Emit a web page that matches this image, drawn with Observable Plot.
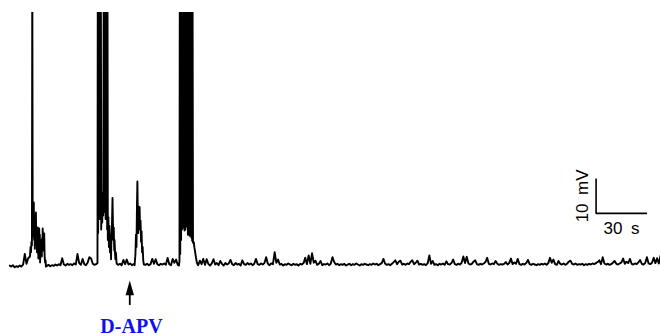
<!DOCTYPE html>
<html>
<head>
<meta charset="utf-8">
<script src="https://cdn.jsdelivr.net/npm/d3@7"></script>
<script src="https://cdn.jsdelivr.net/npm/@observablehq/plot@0.6"></script>
<style>
  html, body { margin: 0; padding: 0; background: #fff; }
</style>
</head>
<body>
<div id="chart"></div>
<script>
// Membrane potential recording (mV) against time (s).
// Resting stretches are sampled once per second; bursts are listed point by point.
const sampleStep = 1;
const restStarts = [0, 22, 64, 80, 111];

const restA = [-65.3, -65.6, -65.2, -65.8, -65.5, -65.7, -65.3, -65.6, -65.0, -62.0, -64.8, -63.2];

const restB = [-65.4, -65.1, -65.5, -65.2, -65.4, -65.0, -65.3, -64.9, -65.2, -63.2,
               -65.0, -65.3, -64.8, -65.1, -64.9, -65.2, -64.7, -65.0, -62.0, -64.6,
               -65.1, -63.4, -64.9, -65.2, -64.4, -62.9, -63.3, -64.8, -65.1, -64.9];

const restC = [-65.1, -64.8, -65.2, -63.7, -64.9, -63.6, -65.0, -64.7, -65.2, -64.9];

const restD = [-65.1, -64.8, -65.2, -64.9, -63.4, -64.8, -63.5, -64.9, -65.2, -64.8,
               -65.0, -64.7, -65.1, -63.1, -64.9, -65.2, -63.4, -64.5, -63.6, -65.1];

const restE = [
  -65.2, -63.9, -64.9, -63.4, -65.1, -63.5, -64.8, -65.3, -64.7, -63.5,
  -65.0, -64.6, -65.2, -64.0, -64.8, -65.3, -64.6, -65.0, -64.7, -63.7,
  -64.9, -65.2, -64.6, -65.0, -64.8, -65.3, -63.8, -64.9, -65.1, -64.6,
  -65.0, -64.7, -65.2, -64.8, -63.4, -64.9, -65.1, -64.7, -65.0, -64.6,
  -62.9, -64.8, -65.2, -64.7, -64.9, -61.5, -64.5, -63.6, -65.0, -64.8,
  -65.3, -64.9, -65.1, -64.7, -65.0, -65.2, -64.8, -65.1, -64.9, -65.3,
  -64.8, -65.0, -64.6, -63.1, -64.9, -62.4, -64.8, -61.8, -64.5, -63.9,
  -65.1, -64.8, -64.0, -65.2, -64.9, -65.0, -64.7, -65.2, -64.8, -62.9,
  -64.3, -65.0, -64.8, -65.2, -64.9, -65.1, -64.8, -65.3, -65.0, -64.8,
  -65.2, -64.9, -65.1, -64.7, -65.0, -65.3, -64.9, -65.1, -64.8, -65.0,
  -65.2, -64.9, -65.1, -64.7, -65.0, -64.8, -65.2, -64.9, -64.6, -63.4,
  -64.8, -65.1, -64.9, -65.2, -64.8, -64.3, -63.8, -64.9, -64.2, -63.9,
  -65.0, -64.8, -65.1, -64.7, -64.9, -64.2, -63.8, -64.9, -64.5, -63.9,
  -65.0, -64.8, -65.1, -64.9, -65.2, -64.7, -62.4, -64.8, -64.0, -65.1,
  -64.9, -65.2, -64.8, -65.0, -64.7, -65.1, -64.1, -64.9, -65.0, -64.6,
  -63.6, -64.9, -65.1, -64.8, -65.0, -64.5, -62.7, -64.6, -62.8, -64.7,
  -65.0, -64.8, -64.2, -63.8, -64.9, -65.1, -64.8, -65.0, -64.7, -64.3,
  -63.1, -64.8, -65.0, -64.7, -64.9, -64.0, -64.8, -65.1, -64.9, -65.0,
  -64.8, -64.3, -65.0, -64.6, -63.3, -64.9, -64.4, -64.8, -63.4, -64.9,
  -65.1, -64.8, -65.0, -64.6, -63.7, -64.9, -65.1, -64.8, -65.0, -65.2,
  -64.9, -65.1, -64.8, -65.0, -64.7, -65.1, -64.6, -63.1, -64.5, -63.6,
  -64.9, -65.1, -64.0, -64.8, -65.0, -64.7, -65.1, -64.8, -64.2, -63.9,
  -64.8, -65.0, -64.7, -65.1, -64.9, -65.0, -64.8, -65.2, -64.9, -65.1,
  -64.8, -65.0, -64.7, -64.9, -64.6, -64.3, -63.8, -64.9, -62.9, -64.7,
  -65.0, -64.8, -65.1, -64.9, -64.5, -64.0, -64.8, -65.0, -64.7, -64.4,
  -63.3, -64.8, -64.2, -64.6, -63.4, -64.8, -65.0, -64.7, -64.9, -64.4,
  -63.7, -64.8, -65.0, -64.6, -62.9, -64.7, -64.9, -64.5, -63.1, -64.6,
  -63.2, -64.7, -62.5
];

// Bursts: [time s, potential mV]; spike peaks overshoot the visible range
const burst1 = [
  [12.06, -62.7], [12.35, -60.0], [12.65, -61.5], [12.94, -58.5], [13.2, -59.5],
  [13.41, 22], [13.65, -57.0], [13.88, -52.0], [14.05, -56.5], [14.29, -47.3],
  [14.5, -58.0], [14.7, -51.0], [14.9, -60.5], [15.15, -53.0], [15.35, -56.0],
  [15.53, -50.1], [15.75, -59.0], [15.95, -55.0], [16.15, -61.5], [16.4, -56.0],
  [16.59, -54.4], [16.8, -60.0], [17.0, -63.3], [17.2, -57.0], [17.47, -54.7],
  [17.7, -60.0], [17.85, -56.5], [18.0, -64.4], [18.25, -59.5], [18.53, -58.1],
  [18.75, -62.0], [19.0, -62.7], [19.2, -57.5], [19.35, -60.5], [19.53, -54.7],
  [19.75, -59.0], [20.0, -61.0], [20.2, -57.0], [20.41, -56.1], [20.65, -62.5],
  [20.94, -64.4], [21.2, -63.8], [21.47, -65.6]
];

const burst2 = [
  [51.76, -64.6], [51.95, 22], [52.15, -56.0], [52.4, 20], [52.6, -50.0],
  [52.85, 19], [53.05, -52.0], [53.3, 18], [53.5, -49.0], [53.75, 18],
  [53.95, -55.0], [54.1, -50.0], [54.25, -45.0], [54.4, -49.5], [54.55, -53.0],
  [54.7, -47.5], [54.85, -44.5], [55.0, -49.0], [55.15, -51.0],
  [55.45, 20], [55.65, -50.0], [55.9, 19], [56.1, -47.0], [56.35, 18],
  [56.55, -52.0], [56.8, 18], [57.0, -49.0], [57.25, 17], [57.45, -55.0],
  [57.65, 16], [57.85, -58.0], [58.05, -53.0], [58.2, -51.5], [58.35, -57.0],
  [58.5, -60.0], [58.65, -55.5], [58.8, -54.0], [58.95, -58.5], [59.1, -61.5],
  [59.25, -57.5], [59.4, -56.5], [59.6, -60.5], [59.75, -63.5], [59.9, -59.0],
  [60.05, -57.0], [60.2, -55.0], [60.35, -52.0], [60.6, -46.0], [60.85, -53.0],
  [61.0, -55.5], [61.1, -58.0], [61.25, -56.0], [61.35, -54.5], [61.5, -58.5],
  [61.65, -61.0], [61.8, -58.0], [61.95, -59.5], [62.1, -62.0], [62.3, -63.5],
  [62.5, -61.5], [62.7, -62.0], [62.9, -64.0], [63.1, -64.8]
];

const burst3 = [
  [73.6, -65.2], [74.1, -62.0], [74.4, -56.5], [74.7, -60.0], [75.0, -48.0],
  [75.25, -41.3], [75.5, -52.0], [75.75, -56.0], [76.05, -48.5], [76.3, -52.0],
  [76.55, -48.6], [76.8, -55.0], [77.1, -52.5], [77.4, -58.5], [77.7, -55.5],
  [78.0, -61.5], [78.35, -60.0], [78.7, -64.0], [79.1, -65.0]
];

const burst4 = [
  [99.7, -65.3], [100.0, -64.0], [100.2, 22], [100.45, -62.0], [100.7, 21],
  [100.95, -58.0], [101.2, 20], [101.45, -55.0], [101.7, 20], [101.95, -54.5],
  [102.2, 19], [102.45, -53.8], [102.7, 19], [102.95, -55.3], [103.2, 18],
  [103.45, -55.0], [103.7, 18], [103.95, -53.3], [104.2, 17], [104.45, -54.2],
  [104.7, 17], [104.95, -56.5], [105.2, 17], [105.45, -55.2], [105.7, 16],
  [105.95, -56.8], [106.2, 16], [106.45, -55.8], [106.7, 16], [106.95, -57.3],
  [107.2, 15], [107.45, -58.2], [107.7, 15], [107.95, -58.8], [108.4, -58.6],
  [108.8, -60.2], [109.3, -61.7], [109.7, -63.0], [110.2, -64.4], [110.6, -64.9]
];

// Scale bar and drug application marker
const scaleBarOrigin = [345.1, -50.4];   // [s, mV] corner of the L
const scaleBarSeconds = 30;
const scaleBarMillivolts = 10;
const timeLabel = "30\u2002s";
const voltLabel = "10\u2002mV";
const drugName = "D-APV";
const drugOnset = 70.76;                 // s

// Assemble the continuous trace
const trace = [];
[restA, restB, restC, restD, restE].forEach((seg, i) =>
  seg.forEach((v, k) => trace.push({t: restStarts[i] + k * sampleStep, v}))
);
[burst1, burst2, burst3, burst4].forEach(b => b.forEach(([t, v]) => trace.push({t, v})));
trace.sort((a, b) => a.t - b.t);

const [t0, v0] = scaleBarOrigin;
const scaleBar = [
  {t: t0, v: v0 + scaleBarMillivolts},
  {t: t0, v: v0},
  {t: t0 + scaleBarSeconds, v: v0}
];

// Narrow filled arrowhead, tip at the dot position, pointing up
const arrowhead = {
  draw(context, size) {
    const r = Math.sqrt(size / Math.PI);
    context.moveTo(0, 0);
    context.lineTo(r, 3.5 * r);
    context.lineTo(-r, 3.5 * r);
    context.closePath();
  }
};

const chart = Plot.plot({
  width: 660,
  height: 336,
  marginTop: 12,
  marginRight: 0,
  marginBottom: 0,
  marginLeft: 9,
  x: {domain: [0, 383], range: [9, 660], axis: null},
  y: {domain: [-80, 7], range: [316.5, 12], axis: null},
  marks: [
    Plot.line(trace, {x: "t", y: "v", stroke: "black", strokeWidth: 1.9, clip: true}),
    Plot.line(scaleBar, {x: "t", y: "v", stroke: "black", strokeWidth: 1.6,
      strokeLinejoin: "miter", strokeLinecap: "butt"}),
    Plot.text([timeLabel], {x: t0 + scaleBarSeconds / 2, y: -56.3, text: d => d,
      lineAnchor: "bottom", textAnchor: "middle", fontSize: 17,
      fontFamily: "Liberation Sans, Arial, sans-serif", fill: "black"}),
    Plot.text([voltLabel], {x: 340.3, y: v0 + scaleBarMillivolts / 2, text: d => d,
      rotate: -90, lineAnchor: "bottom", textAnchor: "middle", fontSize: 17,
      fontFamily: "Liberation Sans, Arial, sans-serif", fill: "black"}),
    Plot.ruleX([drugOnset], {x: d => d, y1: -76.7, y2: -72, stroke: "black", strokeWidth: 1.8}),
    Plot.dot([drugOnset], {x: d => d, y: -69.57, r: 4.2, symbol: arrowhead, fill: "black", stroke: "none"}),
    Plot.text([drugName], {x: drugOnset + 1, y: -84.7, text: d => d,
      lineAnchor: "bottom", textAnchor: "middle", fontSize: 20, fontWeight: "bold",
      fontFamily: "Liberation Serif, Times New Roman, serif", fill: "#1010ee"})
  ]
});

document.getElementById("chart").appendChild(chart);
</script>
</body>
</html>
